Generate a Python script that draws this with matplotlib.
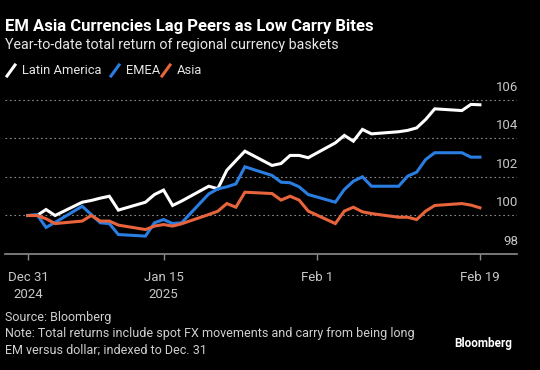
import matplotlib
matplotlib.use("Agg")
import matplotlib.pyplot as plt
import matplotlib.transforms as mtransforms
from matplotlib.lines import Line2D
import pandas as pd

plt.rcParams["font.family"] = ["Roboto", "DejaVu Sans"]

# Trading dates (Dec 31 2024 - Feb 19 2025)
dates = pd.to_datetime([
    "2024-12-31", "2025-01-01", "2025-01-02", "2025-01-03", "2025-01-06",
    "2025-01-07", "2025-01-08", "2025-01-09", "2025-01-10", "2025-01-13",
    "2025-01-14", "2025-01-15", "2025-01-16", "2025-01-17", "2025-01-20",
    "2025-01-21", "2025-01-22", "2025-01-23", "2025-01-24", "2025-01-27",
    "2025-01-28", "2025-01-29", "2025-01-30", "2025-01-31", "2025-02-03",
    "2025-02-04", "2025-02-05", "2025-02-06", "2025-02-07", "2025-02-10",
    "2025-02-11", "2025-02-12", "2025-02-13", "2025-02-14", "2025-02-17",
    "2025-02-18", "2025-02-19",
])

latin_america = [
    100.00, 100.00, 100.31, 100.00, 100.69,
    100.78, 100.90, 101.00, 100.28, 100.69,
    101.09, 101.32, 100.52, 100.75, 101.52,
    101.39, 102.35, 102.85, 103.34, 102.60,
    102.70, 103.12, 103.12, 103.00, 103.77,
    104.16, 103.86, 104.47, 104.24, 104.35,
    104.42, 104.55, 104.99, 105.54, 105.45,
    105.77, 105.75,
]

emea = [
    100.00, 100.05, 99.38, 99.64, 100.48,
    100.05, 99.62, 99.58, 99.01, 98.93,
    99.62, 99.79, 99.58, 99.62, 101.12,
    101.38, 101.49, 101.64, 102.53, 102.08,
    101.73, 101.70, 101.49, 101.09, 100.69,
    101.35, 101.78, 102.01, 101.52, 101.52,
    102.04, 102.25, 102.91, 103.26, 103.26,
    103.03, 103.03,
]

asia = [
    100.00, 100.00, 99.83, 99.58, 99.71,
    100.00, 99.71, 99.71, 99.50, 99.27,
    99.45, 99.53, 99.45, 99.57, 100.05,
    100.22, 100.62, 100.43, 101.21, 101.14,
    100.80, 101.00, 100.80, 100.23, 99.58,
    100.23, 100.43, 100.19, 100.10, 99.91,
    99.91, 99.79, 100.23, 100.52, 100.62,
    100.54, 100.40,
]

series_names = ["Latin America", "EMEA", "Asia"]
series_colors = ["#ffffff", "#2a7de1", "#e8643c"]

y_ticks = [98, 100, 102, 104, 106]
x_tick_dates = pd.to_datetime(["2024-12-31", "2025-01-15", "2025-02-01", "2025-02-19"])
x_tick_labels = ["Dec 31\n2024", "Jan 15\n2025", "Feb 1", "Feb 19"]

W, H = 540, 370
fig = plt.figure(figsize=(W / 100, H / 100), dpi=100, facecolor="black")

# axes: x 5..517 px, y 86..254 px
ax = fig.add_axes([5 / W, 1 - 254 / H, 512 / W, (254 - 86.5) / H], facecolor="black")

for vals, color in zip([latin_america, emea, asia], series_colors):
    ax.plot(dates, vals, color=color, linewidth=2.2, solid_joinstyle="miter")

start = pd.Timestamp("2024-12-31")
ax.set_xlim(start - pd.Timedelta(days=2.54), start + pd.Timedelta(days=54.1))
ax.set_ylim(98, 106.7)

for spine in ["top", "right", "left"]:
    ax.spines[spine].set_visible(False)
ax.spines["bottom"].set_color("#8c8c8c")
ax.spines["bottom"].set_linewidth(1.2)

for v in y_ticks[1:]:
    ax.axhline(v, color="#8a8a8a", linestyle=(0, (1.5, 2.5)), linewidth=0.8, zorder=0)

ax.set_yticks([])
label_off = mtransforms.offset_copy(ax.get_yaxis_transform(), fig=fig, x=1, y=6, units="dots")
for v in y_ticks:
    ax.text(1.0, v, str(v), transform=label_off, ha="right", va="bottom",
            color="#c8c8c8", fontsize=9.5)

ax.set_xticks(x_tick_dates)
ax.set_xticklabels(x_tick_labels, color="#c8c8c8", fontsize=9.5, linespacing=1.45)
ax.tick_params(axis="x", direction="out", length=4, width=1, color="#8c8c8c", pad=8)

# titles
fig.text(5 / W, 1 - 27 / H, "EM Asia Currencies Lag Peers as Low Carry Bites",
         color="white", fontsize=12, fontweight="bold", va="center", ha="left")
fig.text(5 / W, 1 - 45 / H, "Year-to-date total return of regional currency baskets",
         color="#e6e6e6", fontsize=10.3, va="center", ha="left")

# legend
legend_x = [7, 111, 162]
for x0, name, color in zip(legend_x, series_names, series_colors):
    fig.add_artist(Line2D([x0 / W, (x0 + 8) / W], [1 - 76 / H, 1 - 65 / H],
                          color=color, linewidth=2.2, transform=fig.transFigure))
    fig.text((x0 + 15) / W, 1 - 70.5 / H, name, color="#e6e6e6", fontsize=9.3,
             va="center", ha="left")

# footer
fig.text(5 / W, 1 - 318 / H, "Source: Bloomberg", color="#d0d0d0", fontsize=9, va="center")
fig.text(5 / W, 1 - 334 / H,
         "Note: Total returns include spot FX movements and carry from being long",
         color="#d0d0d0", fontsize=9, va="center")
fig.text(5 / W, 1 - 350 / H, "EM versus dollar; indexed to Dec. 31",
         color="#d0d0d0", fontsize=9, va="center")
fig.text(512 / W, 1 - 343 / H, "Bloomberg", color="white", fontsize=8.5,
         fontweight="bold", va="center", ha="right")

fig.savefig("out.png", dpi=100, facecolor="black")
